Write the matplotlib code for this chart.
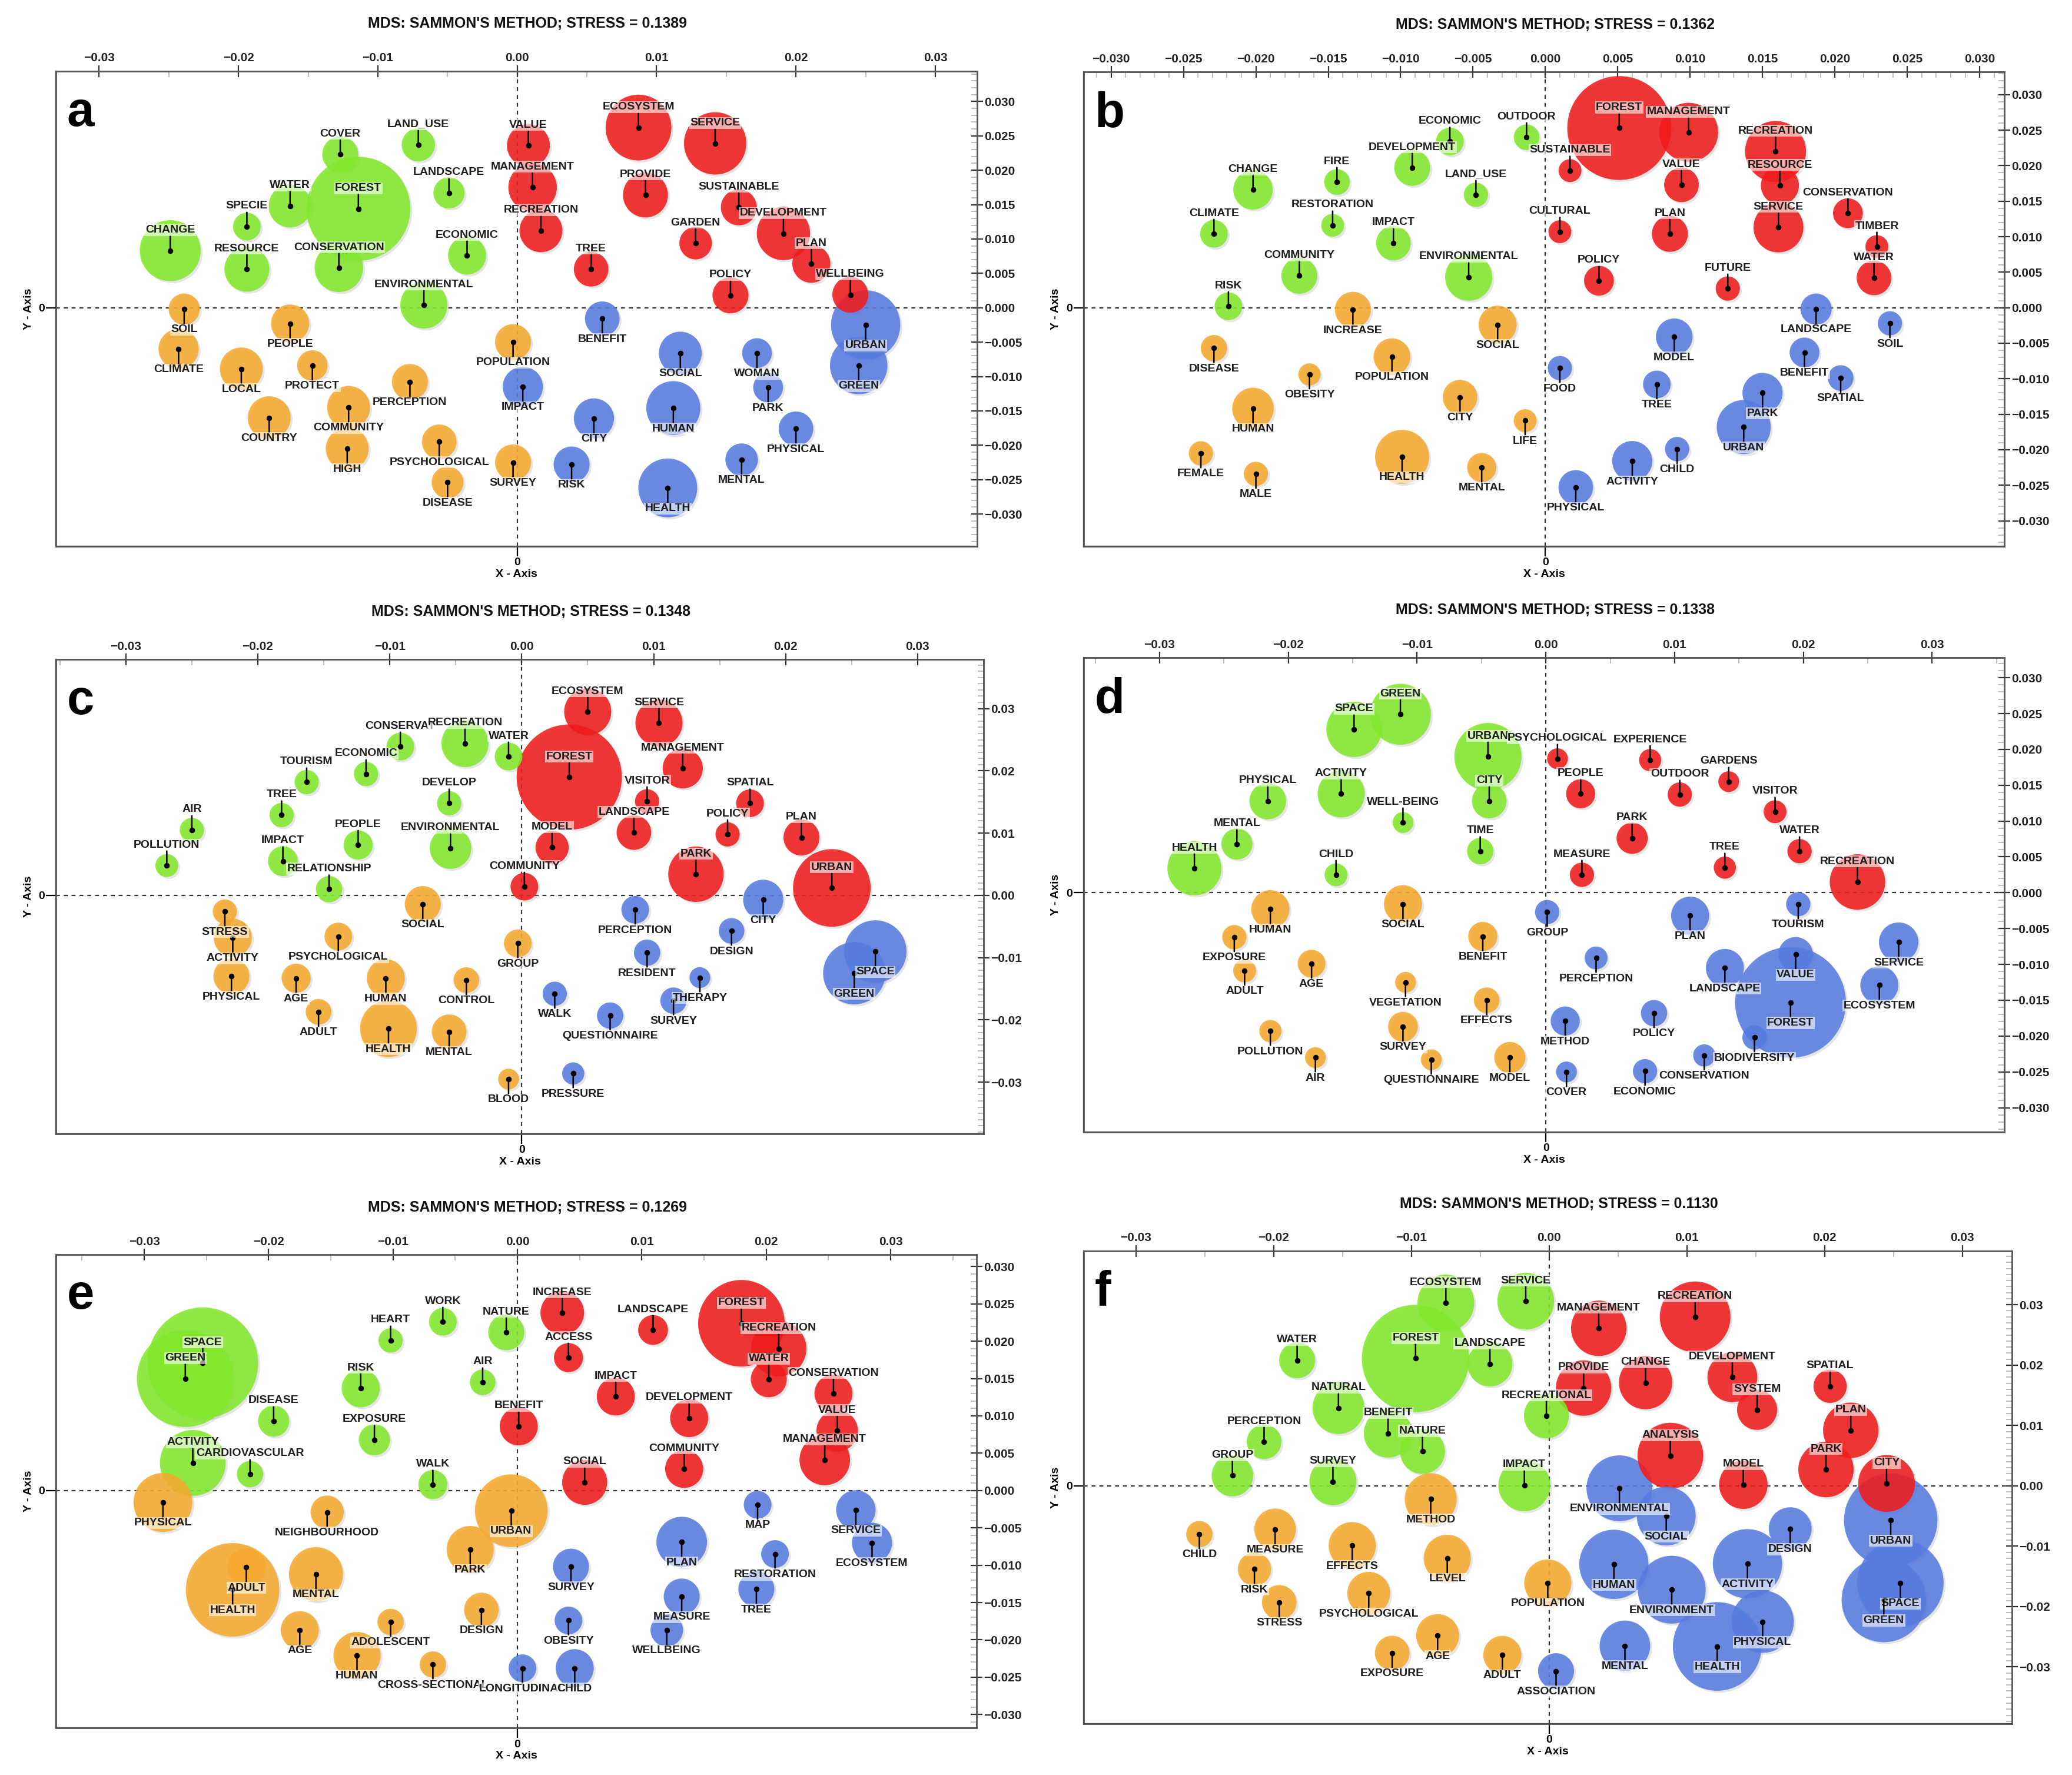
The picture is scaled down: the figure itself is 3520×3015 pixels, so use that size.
import matplotlib.pyplot as plt
import matplotlib.transforms as mtransforms
from matplotlib.ticker import MultipleLocator, FuncFormatter
import numpy as np

plt.rcParams['font.family'] = ['Liberation Sans', 'DejaVu Sans']

# ---------------------------------------------------------------------------
# Data: MDS coordinates of the terms, bubble size and cluster of each term.
# Cluster codes: g = green, r = red, o = orange, b = blue
# ---------------------------------------------------------------------------
stress = [0.1389, 0.1362, 0.1348, 0.1338, 0.1269, 0.1130]

# panel a
a_terms = ['CHANGE', 'SPECIE', 'RESOURCE', 'WATER', 'FOREST', 'COVER', 'CONSERVATION',
           'LAND_USE', 'LANDSCAPE', 'ECONOMIC', 'ENVIRONMENTAL',
           'VALUE', 'MANAGEMENT', 'RECREATION', 'ECOSYSTEM', 'SERVICE', 'PROVIDE',
           'SUSTAINABLE', 'GARDEN', 'DEVELOPMENT', 'PLAN', 'TREE', 'POLICY', 'WELLBEING',
           'SOIL', 'CLIMATE', 'PEOPLE', 'LOCAL', 'PROTECT', 'COUNTRY', 'COMMUNITY', 'HIGH',
           'PERCEPTION', 'PSYCHOLOGICAL', 'DISEASE', 'POPULATION', 'SURVEY',
           'IMPACT', 'URBAN', 'GREEN', 'BENEFIT', 'SOCIAL', 'WOMAN', 'PARK', 'HUMAN',
           'CITY', 'PHYSICAL', 'RISK', 'MENTAL', 'HEALTH']
a_x = [-0.0249, -0.0194, -0.0194, -0.0163, -0.0114, -0.0127, -0.0128, -0.0071, -0.0049, -0.0036, -0.0067,
       0.0008, 0.0011, 0.0017, 0.0087, 0.0142, 0.0092, 0.0159, 0.0128, 0.0191, 0.0211, 0.0053, 0.0153, 0.0239,
       -0.0239, -0.0243, -0.0163, -0.0198, -0.0147, -0.0178, -0.0121, -0.0122, -0.0077, -0.0056, -0.0050,
       -0.0003, -0.0003,
       0.0004, 0.0250, 0.0245, 0.0061, 0.0117, 0.0172, 0.0180, 0.0112, 0.0055, 0.0200, 0.0039, 0.0161, 0.0108]
a_y = [0.0083, 0.0118, 0.0056, 0.0148, 0.0144, 0.0223, 0.0058, 0.0237, 0.0167, 0.0076, 0.0004,
       0.0236, 0.0175, 0.0112, 0.0262, 0.0239, 0.0164, 0.0146, 0.0094, 0.0108, 0.0064, 0.0056, 0.0018, 0.0019,
       -0.0002, -0.0060, -0.0023, -0.0089, -0.0084, -0.0160, -0.0145, -0.0205, -0.0108, -0.0195, -0.0254,
       -0.0050, -0.0225,
       -0.0115, -0.0025, -0.0084, -0.0016, -0.0066, -0.0066, -0.0116, -0.0146, -0.0161, -0.0176, -0.0228,
       -0.0221, -0.0262]
a_size = [88, 40, 65, 62, 150, 52, 70, 48, 45, 55, 68,
          62, 70, 62, 95, 90, 65, 52, 47, 77, 55, 50, 52, 52,
          45, 58, 55, 62, 44, 62, 62, 62, 52, 50, 46, 52, 52,
          58, 100, 83, 50, 62, 43, 43, 78, 58, 50, 52, 47, 85]
a_group = list('g' * 11 + 'r' * 13 + 'o' * 13 + 'b' * 13)

# panel b
b_terms = ['ECONOMIC', 'OUTDOOR', 'DEVELOPMENT', 'FIRE', 'CHANGE', 'LAND_USE', 'RESTORATION',
           'CLIMATE', 'IMPACT', 'COMMUNITY', 'ENVIRONMENTAL', 'RISK',
           'FOREST', 'MANAGEMENT', 'SUSTAINABLE', 'VALUE', 'RECREATION', 'RESOURCE', 'SERVICE',
           'CONSERVATION', 'CULTURAL', 'PLAN', 'TIMBER', 'POLICY', 'FUTURE', 'WATER',
           'INCREASE', 'SOCIAL', 'DISEASE', 'POPULATION', 'OBESITY', 'HUMAN', 'CITY', 'LIFE',
           'FEMALE', 'MALE', 'HEALTH', 'MENTAL',
           'FOOD', 'LANDSCAPE', 'SOIL', 'MODEL', 'BENEFIT', 'TREE', 'SPATIAL', 'PARK', 'URBAN',
           'CHILD', 'ACTIVITY', 'PHYSICAL']
b_x = [-0.0066, -0.0013, -0.0092, -0.0144, -0.0202, -0.0048, -0.0147, -0.0229, -0.0105, -0.0170, -0.0053,
       -0.0219,
       0.0051, 0.0099, 0.0017, 0.0094, 0.0159, 0.0162, 0.0161, 0.0209, 0.0010, 0.0086, 0.0229, 0.0037,
       0.0126, 0.0227,
       -0.0133, -0.0033, -0.0229, -0.0106, -0.0163, -0.0202, -0.0059, -0.0014, -0.0238, -0.0200, -0.0099,
       -0.0044,
       0.0010, 0.0187, 0.0238, 0.0089, 0.0179, 0.0077, 0.0204, 0.0150, 0.0137, 0.0091, 0.0060, 0.0021]
b_y = [0.0234, 0.0240, 0.0197, 0.0177, 0.0166, 0.0159, 0.0116, 0.0104, 0.0091, 0.0045, 0.0043, 0.0002,
       0.0253, 0.0247, 0.0193, 0.0173, 0.0220, 0.0172, 0.0113, 0.0133, 0.0107, 0.0104, 0.0086, 0.0038,
       0.0027, 0.0042,
       -0.0003, -0.0024, -0.0057, -0.0069, -0.0094, -0.0142, -0.0126, -0.0159, -0.0205, -0.0234, -0.0210,
       -0.0225,
       -0.0085, -0.0002, -0.0022, -0.0041, -0.0063, -0.0108, -0.0099, -0.0120, -0.0168, -0.0199, -0.0216,
       -0.0253]
b_size = [40, 37, 52, 37, 57, 35, 33, 40, 50, 52, 68, 40,
          150, 85, 33, 50, 88, 55, 72, 43, 33, 52, 33, 43, 35, 50,
          52, 55, 38, 53, 32, 60, 50, 33, 35, 35, 78, 42,
          35, 45, 35, 53, 43, 40, 37, 58, 78, 35, 58, 50]
b_group = list('g' * 12 + 'r' * 14 + 'o' * 12 + 'b' * 12)

# panel c
c_terms = ['CONSERVAT', 'RECREATION', 'WATER', 'ECONOMIC', 'TOURISM', 'DEVELOP', 'TREE', 'AIR',
           'PEOPLE', 'ENVIRONMENTAL', 'POLLUTION', 'IMPACT', 'RELATIONSHIP',
           'ECOSYSTEM', 'SERVICE', 'FOREST', 'MANAGEMENT', 'VISITOR', 'SPATIAL', 'LANDSCAPE',
           'POLICY', 'PLAN', 'MODEL', 'PARK', 'URBAN', 'COMMUNITY',
           'STRESS', 'ACTIVITY', 'PHYSICAL', 'PSYCHOLOGICAL', 'AGE', 'ADULT', 'HUMAN', 'HEALTH',
           'SOCIAL', 'CONTROL', 'MENTAL', 'GROUP', 'BLOOD',
           'CITY', 'PERCEPTION', 'DESIGN', 'RESIDENT', 'THERAPY', 'SPACE', 'GREEN', 'WALK',
           'SURVEY', 'QUESTIONNAIRE', 'PRESSURE']
c_x = [-0.0092, -0.0043, -0.0010, -0.0118, -0.0163, -0.0055, -0.0182, -0.0250, -0.0124, -0.0054, -0.0269,
       -0.0181, -0.0146,
       0.0050, 0.0104, 0.0036, 0.0122, 0.0095, 0.0173, 0.0085, 0.0156, 0.0212, 0.0023, 0.0132, 0.0235,
       0.0002,
       -0.0225, -0.0219, -0.0220, -0.0139, -0.0171, -0.0154, -0.0103, -0.0101, -0.0075, -0.0042, -0.0055,
       -0.0003, -0.0010,
       0.0183, 0.0086, 0.0159, 0.0095, 0.0135, 0.0268, 0.0252, 0.0025, 0.0115, 0.0067, 0.0039]
c_y = [0.0239, 0.0244, 0.0223, 0.0195, 0.0182, 0.0148, 0.0129, 0.0105, 0.0081, 0.0076, 0.0048, 0.0055,
       0.0010,
       0.0295, 0.0277, 0.0190, 0.0204, 0.0151, 0.0148, 0.0101, 0.0098, 0.0093, 0.0077, 0.0034, 0.0012,
       0.0014,
       -0.0026, -0.0068, -0.0130, -0.0066, -0.0133, -0.0187, -0.0133, -0.0214, -0.0014, -0.0136, -0.0219,
       -0.0077, -0.0295,
       -0.0007, -0.0023, -0.0057, -0.0092, -0.0132, -0.0090, -0.0125, -0.0158, -0.0169, -0.0193, -0.0286]
c_size = [40, 68, 40, 35, 35, 35, 35, 35, 42, 60, 33, 43, 38,
          68, 68, 152, 58, 35, 40, 50, 35, 52, 48, 80, 112, 40,
          35, 55, 52, 40, 42, 37, 55, 82, 52, 37, 50, 40, 30,
          58, 40, 37, 38, 30, 90, 90, 35, 38, 38, 32]
c_group = list('g' * 13 + 'r' * 13 + 'o' * 13 + 'b' * 11)

# panel d
d_terms = ['GREEN', 'SPACE', 'URBAN', 'PHYSICAL', 'ACTIVITY', 'CITY', 'WELL-BEING', 'MENTAL', 'TIME',
           'HEALTH', 'CHILD',
           'PSYCHOLOGICAL', 'EXPERIENCE', 'PEOPLE', 'OUTDOOR', 'GARDENS', 'VISITOR', 'PARK', 'WATER',
           'TREE', 'MEASURE', 'RECREATION',
           'HUMAN', 'SOCIAL', 'EXPOSURE', 'BENEFIT', 'ADULT', 'AGE', 'VEGETATION', 'EFFECTS',
           'POLLUTION', 'SURVEY', 'AIR', 'QUESTIONNAIRE', 'MODEL',
           'GROUP', 'METHOD', 'COVER', 'PLAN', 'TOURISM', 'SERVICE', 'PERCEPTION', 'VALUE',
           'LANDSCAPE', 'ECOSYSTEM', 'FOREST', 'POLICY', 'BIODIVERSITY', 'CONSERVATION', 'ECONOMIC']
d_x = [-0.0113, -0.0149, -0.0045, -0.0216, -0.0159, -0.0044, -0.0111, -0.0240, -0.0051, -0.0273, -0.0163,
       0.0009, 0.0081, 0.0027, 0.0104, 0.0142, 0.0178, 0.0067, 0.0197, 0.0139, 0.0028, 0.0242,
       -0.0214, -0.0111, -0.0242, -0.0049, -0.0234, -0.0182, -0.0109, -0.0046, -0.0214, -0.0111, -0.0179,
       -0.0089, -0.0028,
       0.0001, 0.0015, 0.0016, 0.0112, 0.0196, 0.0274, 0.0039, 0.0194, 0.0139, 0.0259, 0.0190, 0.0084,
       0.0162, 0.0123, 0.0077]
d_y = [0.0249, 0.0228, 0.0190, 0.0128, 0.0138, 0.0128, 0.0098, 0.0068, 0.0058, 0.0034, 0.0025,
       0.0187, 0.0185, 0.0138, 0.0137, 0.0155, 0.0113, 0.0076, 0.0058, 0.0035, 0.0025, 0.0015,
       -0.0023, -0.0016, -0.0062, -0.0061, -0.0109, -0.0099, -0.0125, -0.0150, -0.0193, -0.0187, -0.0230,
       -0.0233, -0.0230,
       -0.0027, -0.0179, -0.0250, -0.0032, -0.0016, -0.0069, -0.0091, -0.0086, -0.0105, -0.0129, -0.0153,
       -0.0168, -0.0202, -0.0227, -0.0249]
d_size = [88, 80, 97, 53, 68, 50, 30, 45, 38, 78, 33,
          30, 32, 42, 35, 30, 33, 45, 35, 32, 35, 80,
          55, 55, 35, 42, 33, 40, 30, 37, 32, 43, 30, 30, 45,
          35, 42, 30, 55, 35, 57, 33, 50, 55, 55, 160, 38, 35, 32, 35]
d_group = list('g' * 11 + 'r' * 11 + 'o' * 13 + 'b' * 15)

# panel e
e_terms = ['SPACE', 'GREEN', 'WORK', 'HEART', 'NATURE', 'RISK', 'AIR', 'DISEASE', 'EXPOSURE',
           'ACTIVITY', 'CARDIOVASCULAR', 'WALK',
           'INCREASE', 'ACCESS', 'LANDSCAPE', 'FOREST', 'RECREATION', 'WATER', 'IMPACT', 'BENEFIT',
           'DEVELOPMENT', 'CONSERVATION', 'VALUE', 'MANAGEMENT', 'COMMUNITY', 'SOCIAL',
           'PHYSICAL', 'NEIGHBOURHOOD', 'URBAN', 'PARK', 'ADULT', 'HEALTH', 'MENTAL', 'DESIGN',
           'AGE', 'ADOLESCENT', 'HUMAN', 'CROSS-SECTIONAL',
           'MAP', 'SERVICE', 'ECOSYSTEM', 'PLAN', 'RESTORATION', 'SURVEY', 'MEASURE', 'TREE',
           'OBESITY', 'WELLBEING', 'LONGITUDINAL', 'CHILD']
e_x = [-0.0253, -0.0267, -0.0060, -0.0102, -0.0009, -0.0126, -0.0028, -0.0196, -0.0115, -0.0261, -0.0215,
       -0.0068,
       0.0036, 0.0041, 0.0109, 0.0180, 0.0210, 0.0202, 0.0079, 0.0001, 0.0138, 0.0254, 0.0257, 0.0247,
       0.0134, 0.0054,
       -0.0285, -0.0153, -0.0005, -0.0038, -0.0218, -0.0229, -0.0162, -0.0029, -0.0175, -0.0102, -0.0129,
       -0.0068,
       0.0193, 0.0272, 0.0285, 0.0132, 0.0207, 0.0043, 0.0132, 0.0192, 0.0041, 0.0120, 0.0004, 0.0046]
e_y = [0.0171, 0.0150, 0.0226, 0.0201, 0.0212, 0.0137, 0.0145, 0.0093, 0.0068, 0.0037, 0.0022, 0.0008,
       0.0238, 0.0178, 0.0215, 0.0224, 0.0190, 0.0149, 0.0126, 0.0086, 0.0097, 0.0130, 0.0080, 0.0041,
       0.0029, 0.0011,
       -0.0016, -0.0029, -0.0027, -0.0079, -0.0103, -0.0133, -0.0112, -0.0160, -0.0187, -0.0176, -0.0221,
       -0.0233,
       -0.0019, -0.0026, -0.0070, -0.0069, -0.0085, -0.0102, -0.0142, -0.0132, -0.0174, -0.0187, -0.0238,
       -0.0238]
e_size = [160, 140, 40, 35, 52, 55, 37, 45, 45, 95, 38, 42,
          63, 42, 43, 125, 80, 52, 55, 55, 55, 55, 60, 73, 55, 65,
          85, 48, 105, 68, 55, 135, 78, 50, 55, 38, 68, 38,
          40, 57, 58, 73, 40, 52, 52, 52, 40, 47, 40, 55]
e_group = list('g' * 12 + 'r' * 14 + 'o' * 12 + 'b' * 12)

# panel f
f_terms = ['ECOSYSTEM', 'SERVICE', 'FOREST', 'LANDSCAPE', 'WATER', 'NATURAL', 'RECREATIONAL',
           'BENEFIT', 'PERCEPTION', 'NATURE', 'GROUP', 'SURVEY', 'IMPACT',
           'MANAGEMENT', 'RECREATION', 'PROVIDE', 'CHANGE', 'DEVELOPMENT', 'SYSTEM', 'SPATIAL',
           'PLAN', 'ANALYSIS', 'PARK', 'MODEL', 'CITY',
           'METHOD', 'CHILD', 'MEASURE', 'EFFECTS', 'LEVEL', 'RISK', 'POPULATION', 'STRESS',
           'PSYCHOLOGICAL', 'AGE', 'EXPOSURE', 'ADULT',
           'ASSOCIATION', 'ENVIRONMENTAL', 'SOCIAL', 'URBAN', 'DESIGN', 'HUMAN', 'ACTIVITY',
           'ENVIRONMENT', 'SPACE', 'GREEN', 'PHYSICAL', 'HEALTH', 'MENTAL']
f_x = [-0.0075, -0.0017, -0.0097, -0.0043, -0.0183, -0.0153, -0.0002, -0.0117, -0.0207, -0.0092, -0.0230,
       -0.0157, -0.0018,
       0.0036, 0.0106, 0.0025, 0.0070, 0.0133, 0.0151, 0.0204, 0.0219, 0.0088, 0.0201, 0.0141, 0.0245,
       -0.0086, -0.0254, -0.0199, -0.0143, -0.0074, -0.0214, -0.0001, -0.0196, -0.0131, -0.0081, -0.0114,
       -0.0034,
       0.0005, 0.0051, 0.0085, 0.0248, 0.0175, 0.0047, 0.0144, 0.0089, 0.0255, 0.0243, 0.0155, 0.0122,
       0.0055]
f_y = [0.0303, 0.0306, 0.0211, 0.0202, 0.0208, 0.0129, 0.0116, 0.0087, 0.0073, 0.0057, 0.0017, 0.0007,
       0.0001,
       0.0261, 0.0280, 0.0162, 0.0171, 0.0180, 0.0126, 0.0165, 0.0092, 0.0050, 0.0027, 0.0002, 0.0004,
       -0.0022, -0.0080, -0.0072, -0.0099, -0.0120, -0.0138, -0.0161, -0.0193, -0.0178, -0.0248, -0.0277,
       -0.0280,
       -0.0307, -0.0004, -0.0050, -0.0057, -0.0071, -0.0130, -0.0129, -0.0172, -0.0161, -0.0189, -0.0225,
       -0.0266, -0.0265]
f_size = [82, 82, 155, 65, 52, 75, 65, 70, 50, 65, 60, 68, 75,
          80, 102, 80, 77, 72, 58, 48, 80, 95, 80, 70, 82,
          75, 38, 60, 68, 68, 48, 68, 50, 62, 62, 50, 55,
          52, 95, 85, 135, 62, 100, 100, 98, 125, 122, 90, 128, 73]
f_group = list('g' * 13 + 'r' * 12 + 'o' * 12 + 'b' * 13)

# ---------------------------------------------------------------------------
# Styling / layout
# ---------------------------------------------------------------------------
colours = {'g': '#82e82c', 'r': '#f01c1c', 'o': '#f6a92e', 'b': '#587be0'}
label_above = {'g', 'r'}          # upper clusters are labelled above the bubble
size_to_pt = 72 / 200 / 1.70      # bubble size units -> radius in points

# [left, bottom, width, height], xlim, ylim, x major step, x minor step, y major step
layout = {
    'a': ([0.0270, 0.6922, 0.4446, 0.2677], (-0.0331, 0.0330), (-0.0347, 0.0344), 0.01, 0.005, 0.005),
    'b': ([0.5230, 0.6922, 0.4443, 0.2673], (-0.0319, 0.0317), (-0.0336, 0.0332), 0.005, 0.001, 0.005),
    'c': ([0.0270, 0.3612, 0.4477, 0.2673], (-0.0353, 0.0350), (-0.0383, 0.0379), 0.01, 0.005, 0.01),
    'd': ([0.5230, 0.3622, 0.4443, 0.2673], (-0.0359, 0.0356), (-0.0334, 0.0328), 0.01, 0.005, 0.005),
    'e': ([0.0270, 0.0265, 0.4443, 0.2667], (-0.0371, 0.0369), (-0.0318, 0.0316), 0.01, 0.005, 0.005),
    'f': ([0.5230, 0.0289, 0.4480, 0.2663], (-0.0338, 0.0336), (-0.0394, 0.0389), 0.01, 0.005, 0.01),
}

panels = [
    ('a', a_terms, a_x, a_y, a_size, a_group),
    ('b', b_terms, b_x, b_y, b_size, b_group),
    ('c', c_terms, c_x, c_y, c_size, c_group),
    ('d', d_terms, d_x, d_y, d_size, d_group),
    ('e', e_terms, e_x, e_y, e_size, e_group),
    ('f', f_terms, f_x, f_y, f_size, f_group),
]


def tick_formatter(step):
    decimals = 3 if step < 0.01 else 2

    def fmt(v, pos):
        if abs(v) < 1e-9:
            v = 0.0
        return ('%.*f' % (decimals, v)).replace('-', '\u2212')
    return FuncFormatter(fmt)


fig = plt.figure(figsize=(17.6, 15.075), dpi=200)

for (letter, terms, xs, ys, sizes, groups), value in zip(panels, stress):
    rect, xlim, ylim, xstep, xminor, ystep = layout[letter]
    ax = fig.add_axes(rect)
    ax.set_xlim(*xlim)
    ax.set_ylim(*ylim)

    # zero reference lines
    ax.axhline(0, color='#333333', lw=0.8, ls=(0, (3, 3)), zorder=1)
    ax.axvline(0, color='#333333', lw=0.8, ls=(0, (3, 3)), zorder=1)

    # bubbles, biggest first so small ones stay visible
    order = np.argsort(sizes)[::-1]
    xs_o = np.array(xs)[order]
    ys_o = np.array(ys)[order]
    s_o = (2 * np.array(sizes)[order] * size_to_pt) ** 2
    c_o = [colours[groups[i]] for i in order]
    shadow = mtransforms.offset_copy(ax.transData, fig=fig, x=1.2, y=-1.2, units='points')
    ax.scatter(xs_o, ys_o, s=s_o, color='#9a9a9a', alpha=0.25, linewidths=0,
               transform=shadow, zorder=2)
    ax.scatter(xs_o, ys_o, s=s_o, c=c_o, alpha=0.88, linewidths=0, zorder=3)
    ax.plot(xs, ys, 'o', ms=2.4, color='black', zorder=4)

    # term labels with a short stick to the bubble centre
    for term, x, y, g in zip(terms, xs, ys, groups):
        up = g in label_above
        ax.annotate(term, xy=(x, y), xytext=(0, 9.5 if up else -9.5), textcoords='offset points',
                    ha='center', va='bottom' if up else 'top', fontsize=7, fontweight='bold',
                    color='#1e1e1e', zorder=5,
                    bbox=dict(boxstyle='square,pad=0.08', fc='white', ec='none', alpha=0.6),
                    arrowprops=dict(arrowstyle='-', color='black', lw=0.9,
                                    shrinkA=0, shrinkB=0))

    # axes: ticks on top and right, single "0" ticks on bottom and left
    ax.xaxis.tick_top()
    ax.yaxis.tick_right()
    ax.xaxis.set_major_locator(MultipleLocator(xstep))
    ax.xaxis.set_minor_locator(MultipleLocator(xminor))
    ax.yaxis.set_major_locator(MultipleLocator(ystep))
    ax.yaxis.set_minor_locator(MultipleLocator(0.001))
    ax.xaxis.set_major_formatter(tick_formatter(xstep))
    ax.yaxis.set_major_formatter(tick_formatter(ystep))
    ax.tick_params(which='major', direction='inout', length=7, width=0.8, color='#333333',
                   labelsize=7.5, pad=1)
    ax.tick_params(which='minor', direction='in', length=3.5, width=0.6, color='#b0b0b0')
    for lab in ax.get_xticklabels() + ax.get_yticklabels():
        lab.set_fontweight('bold')
        lab.set_color('#222222')
    for sp in ax.spines.values():
        sp.set_color('#555555')
        sp.set_linewidth(1.0)

    sx = ax.secondary_xaxis('bottom')
    sx.set_xticks([0])
    sx.set_xticklabels(['0'], fontsize=7, fontweight='bold')
    sx.tick_params(direction='out', length=6, width=0.8, pad=1)
    sx.set_xlabel('X - Axis', fontsize=7, fontweight='bold', labelpad=1)
    sy = ax.secondary_yaxis('left')
    sy.set_yticks([0])
    sy.set_yticklabels(['0'], fontsize=7, fontweight='bold')
    sy.tick_params(direction='out', length=6, width=0.8, pad=1)
    sy.set_ylabel('Y - Axis', fontsize=7, fontweight='bold', labelpad=3)

    ax.text(0.512, 1.10, "MDS: SAMMON'S METHOD; STRESS = %.4f" % value, transform=ax.transAxes,
            ha='center', va='center', fontsize=9, fontweight='bold', color='#111111')
    ax.text(0.012, 0.885, letter, transform=ax.transAxes, ha='left', va='baseline',
            fontsize=30, fontweight='bold', color='black', zorder=6)

fig.savefig('out.png', dpi=200)
